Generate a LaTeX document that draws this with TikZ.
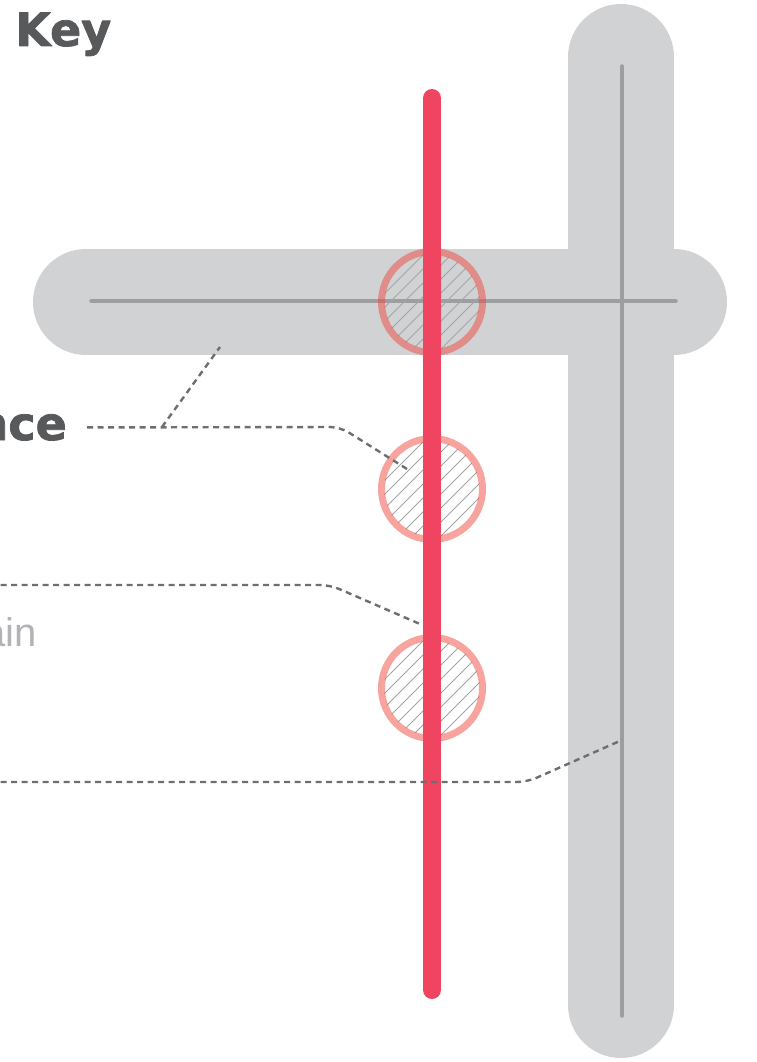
\documentclass[tikz,border=0pt]{standalone}
\usepackage{fontspec}
\setmainfont{Liberation Sans}
\newfontfamily\heavyfont{DejaVu Sans}[BoldFeatures={FakeBold=1.6}]
\definecolor{bandgray}{HTML}{D1D2D4}
\definecolor{axisgray}{HTML}{9D9EA0}
\definecolor{routered}{HTML}{EF4560}
\definecolor{ringred}{HTML}{F04A40}
\definecolor{hatchgray}{HTML}{A4A4A4}
\definecolor{leadergray}{HTML}{6D6E71}
\definecolor{keygray}{HTML}{58595B}
\definecolor{notegray}{HTML}{B1B3B6}
\begin{document}
\begin{tikzpicture}[x=1pt, y=-1pt, line cap=round, line join=round,
  band/.style={draw=bandgray, line width=106pt},
  axis/.style={draw=axisgray, line width=3.5pt},
  hatch/.style={draw=hatchgray, line width=0.8pt},
  ring/.style={circle, draw=ringred, draw opacity=0.5, line width=7pt,
    minimum size=101pt, inner sep=0pt},
  leader/.style={draw=leadergray, line width=2.4pt, line cap=butt,
    dash pattern=on 6pt off 4.5pt, rounded corners=10pt},
  keytitle/.style={font=\heavyfont\bfseries\fontsize{46}{46}\selectfont,
    text=keygray, inner sep=0pt},
  note/.style={font=\fontsize{40}{40}\selectfont, text=notegray, inner sep=0pt}]
  \useasboundingbox (0,0) rectangle (756,1062);

  % Bands
  \draw[band] (86,302) -- (674,302);
  \draw[band] (621,57) -- (621,1005);
  \draw[axis] (91,301) -- (676,301);
  \draw[axis] (622,66) -- (622,1016);

  % Crossings
  \coordinate (ca) at (432,302);
  \coordinate (cb) at (432,489);
  \coordinate (cc) at (432,688);
  \foreach \c in {ca,cb,cc} {
    \begin{scope}[shift={(\c)}]
      \clip (0,0) circle[radius=48pt];
      \foreach \d in {-126,-112,...,126}
        \draw[hatch] (\d-60,60) -- (\d+60,-60);
    \end{scope}
    \node[ring] (ring-\c) at (\c) {};
  }

  % Route
  \draw[draw=routered, line width=18pt] (432,98) -- (432,990);

  % Labels
  \node[keytitle, anchor=base west] (key) at (15,46) {Key};
  \node[keytitle, anchor=base east] (nce) at (67,440) {nce};
  \node[note, anchor=base east] (ain) at (37,646) {ain};

  % Leaders
  \coordinate (l1a) at (340,427);
  \coordinate (l1e) at (407,469);
  \coordinate (l1b) at (162,427);
  \coordinate (l1f) at (220,347);
  \draw[leader] ([xshift=20pt]nce.east) -- (l1a) -- (l1e);
  \draw[leader] (l1b) -- (l1f);

  \coordinate (l2s) at (-10,585);
  \coordinate (l2a) at (330,585);
  \coordinate (l2e) at (420,624);
  \draw[leader] (l2s) -- (l2a) -- (l2e);

  \coordinate (l3s) at (-10,782);
  \coordinate (l3a) at (527,782);
  \coordinate (l3e) at (622,740);
  \draw[leader] (l3s) -- (l3a) -- (l3e);
\end{tikzpicture}
\end{document}
